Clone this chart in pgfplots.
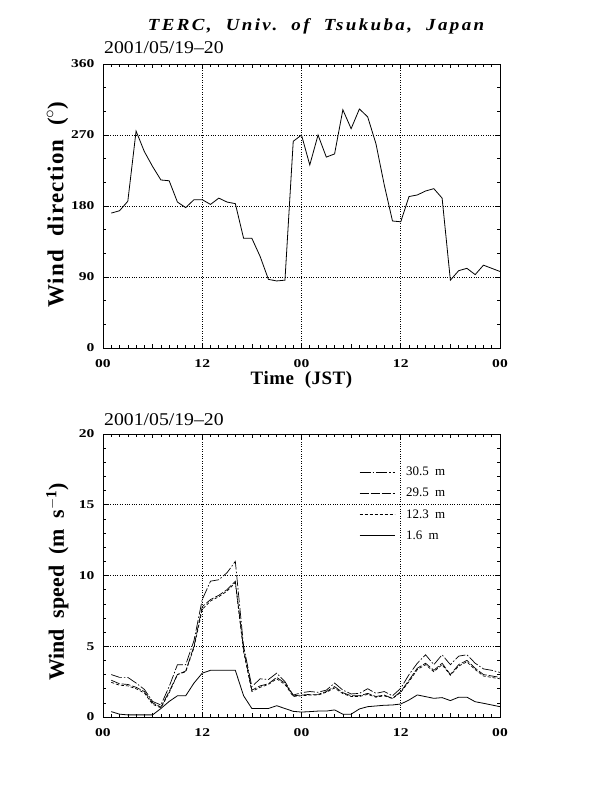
\documentclass[border=0pt]{standalone}
\usepackage{pgfplots}
\pgfplotsset{compat=1.18}
\usepackage{fontspec}
\setmainfont{Liberation Serif}
\newfontfamily\spaced[LetterSpace=3]{Liberation Serif}
\newfontfamily\ylabfont[LetterSpace=5]{Liberation Serif}
\newfontfamily\titlefont[LetterSpace=14, FakeStretch=1.12]{Liberation Serif}
\newfontfamily\wide[FakeStretch=1.3]{Liberation Serif}
\newfontfamily\datefont[FakeStretch=1.1]{Liberation Serif}
\begin{document}
\begin{tikzpicture}
\path[use as bounding box] (0,0) rectangle (616bp,-792bp);
\pgfplotsset{
  every axis/.append style={
    scale only axis, width=397bp,
    xmin=0, xmax=48,
    xtick={0,12,24,36,48}, xticklabels={00,12,00,12,00},
    minor x tick num=11,
    extra x ticks={6,18,30,42}, extra x tick labels={},
    extra x tick style={grid=none, major tick length=4bp},
    tick pos=both, tick align=inside,
    major tick length=5bp, minor tick length=3bp,
    grid=major,
    major grid style={dotted, black, line width=0.7bp},
    axis line style={line width=0.8bp},
    every tick/.style={black, line width=0.6bp},
    tick label style={font=\wide\fontsize{12}{13}\selectfont\bfseries},
    /pgf/number format/assume math mode=true,
    yticklabel style={xshift=-5bp},
    xticklabel style={yshift=-8bp},
    xlabel style={font=\spaced\fontsize{19}{20}\selectfont\bfseries},
  }
}
\node[font=\titlefont\fontsize{17}{19}\selectfont\bfseries\itshape] at (316bp,-26bp) {TERC,\ \ Univ.\ \ of\ \ Tsukuba,\ \ Japan};
\node[anchor=west, font=\datefont\fontsize{18}{19}\selectfont, inner sep=0pt] at (104bp,-48bp) {2001/05/19–20};
\node[anchor=west, font=\datefont\fontsize{18}{19}\selectfont, inner sep=0pt] at (104bp,-420bp) {2001/05/19–20};

\begin{axis}[
  at={(103bp,-348bp)}, anchor=south west, height=284bp,
  ymin=0, ymax=360, ytick={0,90,180,270,360},
  minor y tick num=2,
  ylabel={Wind\ \ direction\ \ ($^{\circ}$)},
  ylabel style={font=\ylabfont\fontsize{23}{24}\selectfont\bfseries, at={(axis description cs:-0.1146,0.505)}, anchor=center},
  xlabel={Time\ \ (JST)},
  xlabel style={at={(axis description cs:0.5,-0.112)}, anchor=center},
]
\addplot[black, line width=0.8bp] coordinates {
(1,171) (2,174) (3,186) (4,275) (5,249) (6,230) (7,213) (8,212) (9,185) (10,178)
(11,188) (12,188) (13,182) (14,190) (15,185) (16,183) (17,139) (18,139) (19,116) (20,87)
(21,85) (22,86) (23,262) (24,270) (25,232) (26,270) (27,242) (28,246) (29,302) (30,278)
(31,303) (32,293) (33,259) (34,207) (35,161) (36,160) (37,192) (38,194) (39,199) (40,202)
(41,190) (42,86) (43,98) (44,101) (45,93) (46,105) (47,101) (48,97)
};
\node[anchor=west, font=\fontsize{13}{14}\selectfont\bfseries] at (axis description cs:1.02,1) {N};
\node[anchor=west, font=\fontsize{13}{14}\selectfont\bfseries] at (axis description cs:1.02,0.75) {W};
\node[anchor=west, font=\fontsize{13}{14}\selectfont\bfseries] at (axis description cs:1.02,0.5) {S};
\node[anchor=west, font=\fontsize{13}{14}\selectfont\bfseries] at (axis description cs:1.02,0.25) {E};
\node[anchor=west, font=\fontsize{13}{14}\selectfont\bfseries] at (axis description cs:1.02,0) {N};
\end{axis}

\begin{axis}[
  at={(103bp,-717bp)}, anchor=south west, height=283bp,
  ymin=0, ymax=20, ytick={0,5,10,15,20},
  minor y tick num=4,
  ylabel={Wind\ \ speed\ \ (m\ \ s$^{\mathbf{-1}}$)},
  ylabel style={font=\fontsize{22}{24}\selectfont\bfseries, at={(axis description cs:-0.1146,0.477)}, anchor=center},
  legend style={at={(axis description cs:0.645,0.89)}, anchor=north west, draw=none, fill=none,
    font=\fontsize{13}{14}\selectfont, row sep=7bp, inner sep=0pt},
  legend cell align=left,
  legend image code/.code={\draw[#1] (0bp,0bp) -- (35bp,0bp);},
]
\addplot[black, line width=0.7bp, dash pattern=on 11bp off 2bp on 1.5bp off 2bp] coordinates {
(1,3.0) (2,2.8) (3,2.8) (4,2.4) (5,1.95) (6,1.1) (7,0.85) (8,2.15) (9,3.7) (10,3.7)
(11,5.4) (12,8.3) (13,9.6) (14,9.7) (15,10.2) (16,11.0) (17,5.0) (18,2.15) (19,2.7) (20,2.65)
(21,3.1) (22,2.5) (23,1.55) (24,1.72) (25,1.8) (26,1.75) (27,1.9) (28,2.4) (29,1.9) (30,1.63)
(31,1.67) (32,2.0) (33,1.67) (34,1.8) (35,1.5) (36,2.03) (37,3.0) (38,3.8) (39,4.4) (40,3.7)
(41,4.4) (42,3.7) (43,4.3) (44,4.4) (45,3.8) (46,3.4) (47,3.3) (48,3.15)
};
\addlegendentry{\hspace{9bp}30.5\ \ m}
\addplot[black, line width=0.7bp, dash pattern=on 9bp off 2bp] coordinates {
(1,2.6) (2,2.35) (3,2.3) (4,2.1) (5,1.8) (6,1.0) (7,0.7) (8,1.8) (9,3.0) (10,3.25)
(11,5.0) (12,7.8) (13,8.3) (14,8.6) (15,9.0) (16,9.6) (17,4.8) (18,1.9) (19,2.2) (20,2.35)
(21,2.8) (22,2.4) (23,1.5) (24,1.55) (25,1.6) (26,1.6) (27,1.8) (28,2.15) (29,1.72) (30,1.5)
(31,1.5) (32,1.67) (33,1.45) (34,1.55) (35,1.32) (36,1.8) (37,2.6) (38,3.45) (39,3.8) (40,3.3)
(41,3.8) (42,3.0) (43,3.7) (44,4.0) (45,3.45) (46,3.0) (47,2.9) (48,2.8)
};
\addlegendentry{\hspace{9bp}29.5\ \ m}
\addplot[black, line width=0.7bp, dash pattern=on 3bp off 2bp] coordinates {
(1,2.45) (2,2.25) (3,2.2) (4,2.0) (5,1.7) (6,0.9) (7,0.65) (8,1.7) (9,3.0) (10,3.2)
(11,4.9) (12,7.6) (13,8.2) (14,8.5) (15,8.9) (16,9.5) (17,4.6) (18,1.8) (19,2.1) (20,2.3)
(21,2.7) (22,2.3) (23,1.45) (24,1.5) (25,1.55) (26,1.55) (27,1.75) (28,2.05) (29,1.65) (30,1.45)
(31,1.45) (32,1.6) (33,1.4) (34,1.5) (35,1.3) (36,1.75) (37,2.5) (38,3.35) (39,3.7) (40,3.2)
(41,3.7) (42,2.95) (43,3.6) (44,3.9) (45,3.35) (46,2.9) (47,2.8) (48,2.7)
};
\addlegendentry{\hspace{9bp}12.3\ \ m}
\addplot[black, line width=0.8bp] coordinates {
(1,0.38) (2,0.2) (3,0.15) (4,0.15) (5,0.15) (6,0.15) (7,0.6) (8,1.1) (9,1.5) (10,1.5)
(11,2.4) (12,3.1) (13,3.3) (14,3.3) (15,3.3) (16,3.3) (17,1.5) (18,0.6) (19,0.6) (20,0.6)
(21,0.8) (22,0.6) (23,0.4) (24,0.35) (25,0.38) (26,0.42) (27,0.42) (28,0.5) (29,0.2) (30,0.2)
(31,0.57) (32,0.73) (33,0.78) (34,0.83) (35,0.85) (36,0.92) (37,1.2) (38,1.56) (39,1.44) (40,1.32)
(41,1.37) (42,1.16) (43,1.4) (44,1.4) (45,1.08) (46,0.97) (47,0.85) (48,0.73)
};
\addlegendentry{\hspace{9bp}1.6\ \ m}
\end{axis}
\end{tikzpicture}
\end{document}
